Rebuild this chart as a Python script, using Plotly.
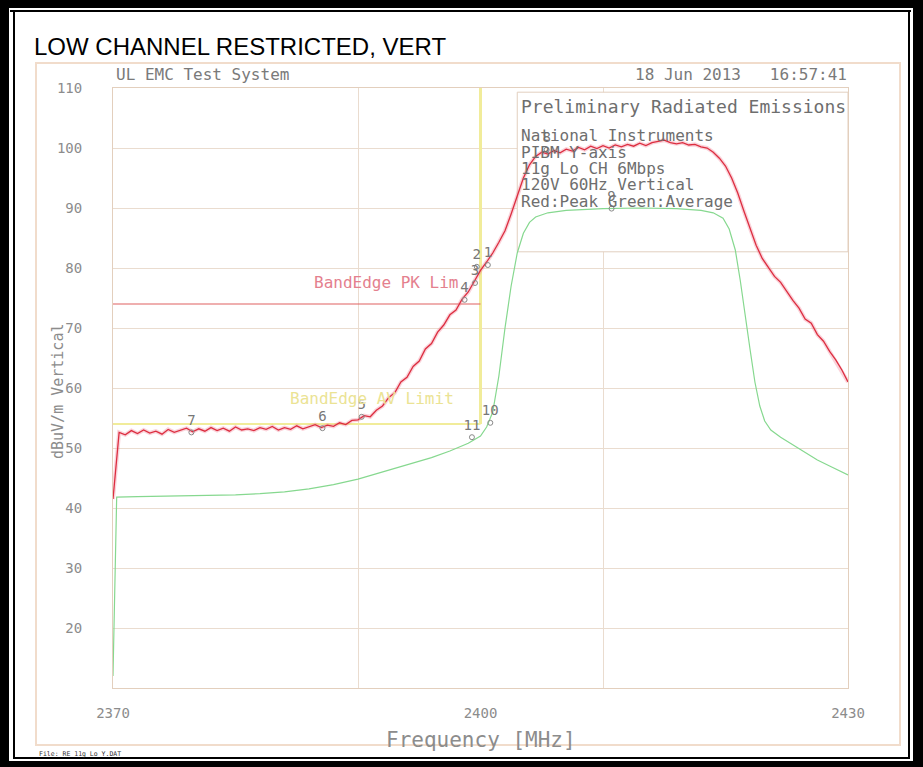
import plotly.graph_objects as go

# ---------------- data ----------------
peak_freq = [2370.0, 2370.5, 2371.0, 2371.5, 2372.0, 2372.5, 2373.0, 2373.5, 2374.0, 2374.5,
             2375.0, 2375.5, 2376.0, 2376.5, 2377.0, 2377.5, 2378.0, 2378.5, 2379.0, 2379.5,
             2380.0, 2380.5, 2381.0, 2381.5, 2382.0, 2382.5, 2383.0, 2383.5, 2384.0, 2384.5,
             2385.0, 2385.5, 2386.0, 2386.5, 2387.0, 2387.5, 2388.0, 2388.5, 2389.0, 2389.5,
             2390.0, 2390.5, 2391.0, 2391.5, 2392.0, 2392.5, 2393.0, 2393.5, 2394.0, 2394.5,
             2395.0, 2395.5, 2396.0, 2396.5, 2397.0, 2397.5, 2398.0, 2398.5, 2399.0, 2399.5,
             2400.0, 2400.5, 2401.0, 2401.5, 2402.0, 2402.5, 2403.0, 2403.5, 2404.0, 2404.5,
             2405.0, 2405.5, 2406.0, 2406.5, 2407.0, 2407.5, 2408.0, 2408.5, 2409.0, 2409.5,
             2410.0, 2410.5, 2411.0, 2411.5, 2412.0, 2412.5, 2413.0, 2413.5, 2414.0, 2414.5,
             2415.0, 2415.5, 2416.0, 2416.5, 2417.0, 2417.5, 2418.0, 2418.5, 2419.0, 2419.5,
             2420.0, 2420.5, 2421.0, 2421.5, 2422.0, 2422.5, 2423.0, 2423.5, 2424.0, 2424.5,
             2425.0, 2425.5, 2426.0, 2426.5, 2427.0, 2427.5, 2428.0, 2428.5, 2429.0, 2429.5,
             2430.0]
peak_level = [41.5, 52.6, 52.2, 52.9, 52.4, 53.0, 52.5, 52.8, 52.3, 53.1,
              52.6, 52.9, 53.3, 52.7, 53.2, 52.8, 53.4, 52.9, 53.3, 52.8,
              53.5, 53.0, 53.2, 52.9, 53.4, 53.1, 53.6, 53.0, 53.4, 53.1,
              53.7, 53.2, 53.5, 53.9, 53.4, 53.8, 53.6, 54.2, 53.9, 54.6,
              54.7, 55.4, 55.2, 56.3, 57.0, 58.4, 59.2, 61.0, 61.8, 63.6,
              64.5, 66.5, 67.4, 69.3, 70.5, 72.2, 73.0, 74.8, 76.0, 77.8,
              79.6, 81.0, 82.5, 84.3, 86.2, 89.0, 92.0, 95.0, 97.2, 98.6,
              99.3, 99.0, 99.6, 99.2, 99.8, 99.5, 100.1, 99.7, 100.3, 99.9,
              100.4, 100.0, 100.5, 100.2, 100.6, 100.3, 100.8, 100.4, 100.9, 101.1,
              101.3, 100.9, 100.7, 100.9, 100.5, 100.6, 100.2, 100.0, 99.3, 98.3,
              97.0, 95.0, 92.5, 89.5, 86.5, 83.8, 81.6, 80.2, 78.6, 77.6,
              76.0, 74.6, 73.3, 71.5, 70.8, 68.9, 67.8, 66.1, 64.7, 63.0,
              61.0]

avg_freq = [2370.0, 2370.3, 2372.0, 2375.0, 2378.0, 2380.0, 2382.0, 2384.0, 2386.0, 2388.0,
            2390.0, 2392.0, 2394.0, 2396.0, 2397.5, 2399.0, 2400.0, 2400.5, 2401.0, 2401.5,
            2402.0, 2402.5, 2403.0, 2403.5, 2404.0, 2404.5, 2405.5, 2407.0, 2410.0, 2413.0,
            2416.0, 2418.0, 2419.0, 2419.8, 2420.3, 2420.8, 2421.2, 2421.6, 2422.0, 2422.4,
            2422.8, 2423.2, 2423.7, 2424.5, 2425.5, 2426.5, 2427.5, 2428.5, 2429.3, 2430.0]
avg_level = [12.0, 41.8, 41.9, 42.0, 42.1, 42.2, 42.4, 42.7, 43.2, 43.9,
             44.8, 46.0, 47.2, 48.4, 49.5, 50.8, 52.0, 53.5, 56.0, 62.0,
             70.0, 77.0, 82.5, 85.8, 87.6, 88.5, 89.2, 89.6, 89.9, 90.0,
             89.9, 89.6, 89.2, 88.3, 86.5, 83.0, 78.0, 72.0, 66.5, 61.0,
             57.0, 54.5, 53.0, 51.8, 50.5, 49.2, 48.0, 47.0, 46.2, 45.5]

pk_limit_freq = [2370, 2400]
pk_limit_level = [74, 74]
av_limit_freq = [2370, 2400]
av_limit_level = [54, 54]
band_edge_freq = [2400, 2400]
band_edge_level = [54, 110]

peak_mk_freq = [2400.6, 2399.7, 2399.55, 2398.7, 2390.3, 2387.1, 2376.4, 2405.4]
peak_mk_level = [80.5, 80.2, 77.5, 74.7, 55.2, 53.3, 52.6, 99.7]
peak_mk_label = ["1", "2", "3", "4", "5", "6", "7", "8"]
avg_mk_freq = [2410.7, 2400.8, 2399.3]
avg_mk_level = [89.9, 54.2, 51.8]
avg_mk_label = ["9", "10", "11"]

x_ticks = [2370, 2400, 2430]
y_ticks = [20, 30, 40, 50, 60, 70, 80, 90, 100, 110]

info_lines = ["National Instruments", "PIBM Y-axis", "11g Lo CH 6Mbps",
              "120V 60Hz Vertical", "Red:Peak Green:Average"]

# ---------------- layout helpers ----------------
W, H = 923, 767
L, R, T, B = 113, 848, 88, 688


def px(x):
    return (x - L) / (R - L)


def py(y):
    return (B - y) / (B - T)


MONO = "DejaVu Sans Mono"
GRAY = "#8c8c8c"
GRID = "#eadccf"

fig = go.Figure()

fig.add_trace(go.Scatter(x=av_limit_freq, y=av_limit_level, mode="lines",
                         line=dict(color="#f1ec9a", width=2), hoverinfo="skip"))
fig.add_trace(go.Scatter(x=band_edge_freq, y=band_edge_level, mode="lines",
                         line=dict(color="#f1ec9a", width=3), hoverinfo="skip"))
fig.add_trace(go.Scatter(x=pk_limit_freq, y=pk_limit_level, mode="lines",
                         line=dict(color="#e06060", width=1.2), hoverinfo="skip"))
fig.add_trace(go.Scatter(x=avg_freq, y=avg_level, mode="lines",
                         line=dict(color="#86d88f", width=1.2), hoverinfo="skip"))
# soft pink halo of the scanned peak trace
fig.add_trace(go.Scatter(x=peak_freq, y=peak_level, mode="lines",
                         line=dict(color="rgba(240,130,150,0.35)", width=4),
                         hoverinfo="skip"))
fig.add_trace(go.Scatter(x=peak_freq, y=peak_level, mode="lines",
                         line=dict(color="#dc2e40", width=1.3), hoverinfo="skip"))
fig.add_trace(go.Scatter(x=peak_mk_freq, y=peak_mk_level, mode="markers+text",
                         text=peak_mk_label, textposition="top center",
                         textfont=dict(family=MONO, size=14, color="#777777"),
                         marker=dict(symbol="circle-open", size=5, color="#888888",
                                     line=dict(width=1)),
                         hoverinfo="skip"))
fig.add_trace(go.Scatter(x=avg_mk_freq, y=avg_mk_level, mode="markers+text",
                         text=avg_mk_label, textposition="top center",
                         textfont=dict(family=MONO, size=14, color="#777777"),
                         marker=dict(symbol="circle-open", size=5, color="#888888",
                                     line=dict(width=1)),
                         hoverinfo="skip"))

shapes = []
# chart image frame
shapes.append(dict(type="rect", xref="paper", yref="paper",
                   x0=px(36), x1=px(900), y0=py(745), y1=py(63),
                   line=dict(color="#f1dccb", width=2), fillcolor="rgba(0,0,0,0)",
                   layer="below"))
# info box over the grid
shapes.append(dict(type="rect", xref="x", yref="y",
                   x0=2403.0, x1=2430, y0=82.7, y1=109.3,
                   line=dict(color="#e2cfbf", width=1), fillcolor="white",
                   layer="between"))
# page double border (black)
for (x0, y0, x1, y1) in [(0, 0, 9, H), (0, 0, W, 8), (913, 0, W, H), (0, 761, W, H),
                         (13, 10, 15, 759), (10, 10, 911, 12), (908, 10, 910, 759),
                         (13, 757, 910, 759)]:
    shapes.append(dict(type="rect", xref="paper", yref="paper",
                       x0=px(x0), x1=px(x1), y0=py(y1), y1=py(y0),
                       line=dict(width=0), fillcolor="black", layer="above"))

ann = []
ann.append(dict(text="LOW CHANNEL RESTRICTED, VERT", xref="paper", yref="paper",
                x=px(32), y=py(47), xanchor="left", yanchor="middle", showarrow=False,
                font=dict(family="Liberation Sans", size=24, color="black")))
ann.append(dict(text="UL EMC Test System", xref="paper", yref="paper",
                x=px(114), y=py(75), xanchor="left", yanchor="middle", showarrow=False,
                font=dict(family=MONO, size=16, color="#7a7a7a")))
ann.append(dict(text="18 Jun 2013   16:57:41", xref="paper", yref="paper",
                x=px(849), y=py(75), xanchor="right", yanchor="middle", showarrow=False,
                font=dict(family=MONO, size=16, color="#7a7a7a")))
ann.append(dict(text="Preliminary Radiated Emissions", xref="paper", yref="paper",
                x=px(519), y=py(107), xanchor="left", yanchor="middle", showarrow=False,
                font=dict(family=MONO, size=18, color="#6e6e6e")))
for i, line in enumerate(info_lines):
    ann.append(dict(text=line, xref="paper", yref="paper",
                    x=px(519), y=py(136 + 16.3 * i), xanchor="left", yanchor="middle",
                    showarrow=False, font=dict(family=MONO, size=16, color="#6e6e6e")))
ann.append(dict(text="BandEdge PK Lim", xref="x", yref="y", x=2398.4, y=77.6,
                xanchor="right", yanchor="middle", showarrow=False,
                font=dict(family=MONO, size=16, color="#e4808e")))
ann.append(dict(text="BandEdge AV Limit", xref="x", yref="y", x=2384.3, y=58.2,
                xanchor="left", yanchor="middle", showarrow=False,
                font=dict(family=MONO, size=16, color="#ebe394")))
ann.append(dict(text="dBuV/m Vertical", xref="paper", yref="paper",
                x=px(58), y=py(392), xanchor="center", yanchor="middle", textangle=-90,
                showarrow=False, font=dict(family=MONO, size=15, color=GRAY)))
ann.append(dict(text="Frequency [MHz]", xref="paper", yref="paper",
                x=px(481), y=py(740), xanchor="center", yanchor="middle",
                showarrow=False, font=dict(family=MONO, size=21, color=GRAY)))
ann.append(dict(text="File: RE 11g Lo Y.DAT", xref="paper", yref="paper",
                x=px(37), y=py(754), xanchor="left", yanchor="middle",
                showarrow=False, font=dict(family=MONO, size=6.5, color="#333333")))

fig.update_layout(
    width=W, height=H, autosize=False,
    margin=dict(l=L, r=W - R, t=T, b=H - B, pad=0),
    paper_bgcolor="white", plot_bgcolor="white",
    showlegend=False,
    shapes=shapes, annotations=ann,
    xaxis=dict(range=[2370, 2430], tickmode="array", tickvals=x_ticks,
               ticktext=[str(v) for v in x_ticks], showgrid=False,
               minor=dict(tick0=2370, dtick=20, showgrid=True, gridcolor=GRID, gridwidth=1,
                          ticks=""),
               showline=True, linecolor="#e3cfbd", linewidth=1, mirror=True,
               zeroline=False, ticks="", ticklabelstandoff=12,
               tickfont=dict(family=MONO, size=14, color=GRAY), fixedrange=True),
    yaxis=dict(range=[10, 110], tickmode="array", tickvals=y_ticks,
               ticktext=[str(v) for v in y_ticks], showgrid=True, gridcolor=GRID,
               gridwidth=1, showline=True, linecolor="#e3cfbd", linewidth=1, mirror=True,
               zeroline=False, ticks="", ticklabelstandoff=27,
               tickfont=dict(family=MONO, size=14, color=GRAY), fixedrange=True),
)

fig.write_html("out.html", config={"displayModeBar": False},
               post_script="document.body.style.margin='0';document.body.style.padding='0';"
                           "document.documentElement.style.overflow='hidden';")
